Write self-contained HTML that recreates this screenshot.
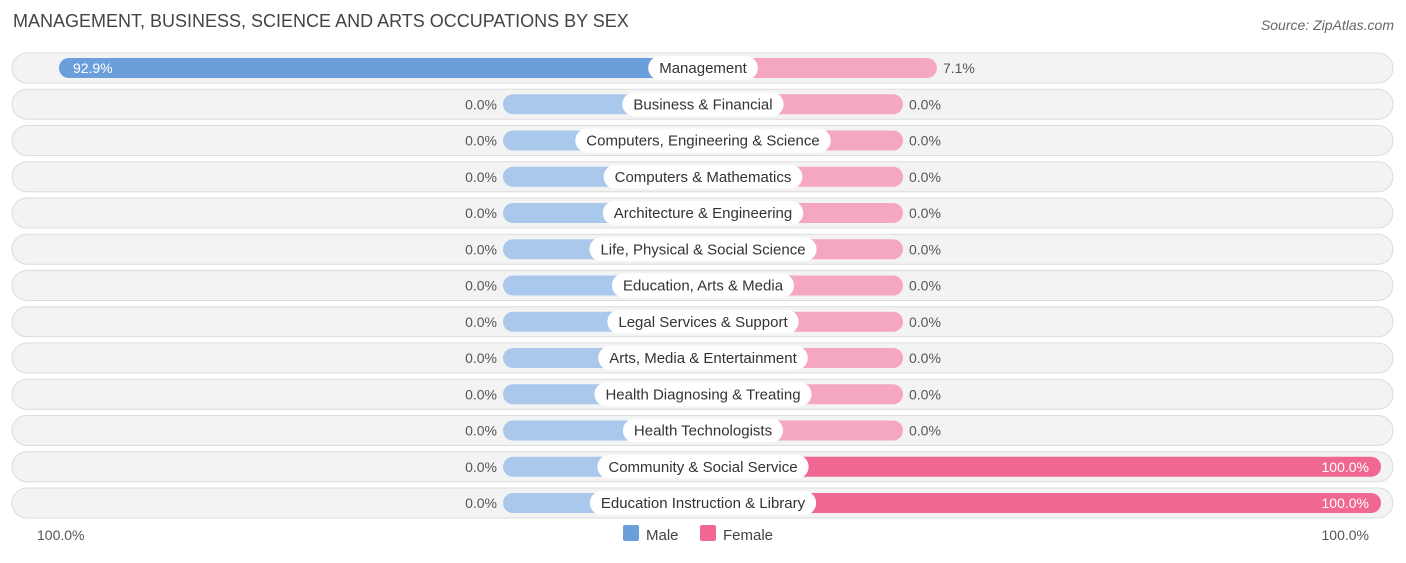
<!DOCTYPE html>
<html><head><meta charset="utf-8"><style>
body{margin:0;width:1406px;height:558px;background:#fff;font-family:"Liberation Sans",sans-serif;overflow:hidden}
</style></head><body>
<svg width="1406" height="558" id="c">
<text x="13" y="27" font-size="18" fill="#444">MANAGEMENT, BUSINESS, SCIENCE AND ARTS OCCUPATIONS BY SEX</text>
<text x="1394" y="30" font-size="14" fill="#666" font-style="italic" text-anchor="end">Source: ZipAtlas.com</text>
<text x="37" y="540" font-size="14" fill="#555">100.0%</text>
<text x="1369" y="540" font-size="14" fill="#555" text-anchor="end">100.0%</text>
<rect x="623" y="525" width="16" height="16" rx="2" fill="#6a9fdc"/>
<text x="646" y="540" font-size="15" fill="#444">Male</text>
<rect x="700" y="525" width="16" height="16" rx="2" fill="#f06892"/>
<text x="723" y="540" font-size="15" fill="#444">Female</text>
<g id="rows"></g>
</svg>
<script>
const categories=["Management","Business & Financial","Computers, Engineering & Science","Computers & Mathematics","Architecture & Engineering","Life, Physical & Social Science","Education, Arts & Media","Legal Services & Support","Arts, Media & Entertainment","Health Diagnosing & Treating","Health Technologists","Community & Social Service","Education Instruction & Library"];
const maleValues=[92.9,0,0,0,0,0,0,0,0,0,0,0,0];
const femaleValues=[7.1,0,0,0,0,0,0,0,0,0,0,100,100];
const NS="http://www.w3.org/2000/svg";
const g=document.getElementById('rows');
const cx=703, stub=200, k=4.78;
function ext(v){return stub+v*k;}
function mk(t,a,p){const e=document.createElementNS(NS,t);for(const q in a)e.setAttribute(q,a[q]);p.appendChild(e);return e;}
categories.forEach((cat,i)=>{
  const y=68+i*36.25;
  const row=mk('g',{},g);
  
  
  mk('rect',{x:12,y:y-15,width:1381,height:30,rx:15,fill:'#f3f3f3',stroke:'#dcdcdc'},row);
  const m=maleValues[i],f=femaleValues[i];
  const mc=m>50?'#6a9fdc':'#a9c8ec', fc=f>50?'#f06892':'#f5a7c0';
  const ml=ext(m), fl=ext(f);
  const mb=mk('rect',{x:cx-ml,y:y-10,width:ml,height:20,rx:10,fill:mc},row);
  
  
  const fb=mk('rect',{x:cx,y:y-10,width:fl,height:20,rx:10,fill:fc},row);
  
  
  const bg=mk('rect',{x:cx-50,y:y-12,width:100,height:24,rx:12,fill:'#fff'},row);
  const lt=mk('text',{x:cx,y:y+5,'font-size':15,fill:'#333','text-anchor':'middle'},row);
  lt.textContent=cat;
  
  
  const lw=lt.getComputedTextLength()+22;
  bg.setAttribute('x',cx-lw/2);bg.setAttribute('width',lw);
  let mt;
  if(m>50){mt=mk('text',{x:cx-ml+14,y:y+5,'font-size':14,fill:'#fff'},row);}
  else{mt=mk('text',{x:cx-ml-6,y:y+5,'font-size':14,fill:'#555','text-anchor':'end'},row);}
  mt.textContent=m.toFixed(1)+'%';
  
  
  let ft;
  if(f>50){ft=mk('text',{x:cx+fl-12,y:y+5,'font-size':14,fill:'#fff','text-anchor':'end'},row);}
  else{ft=mk('text',{x:cx+fl+6,y:y+5,'font-size':14,fill:'#555'},row);}
  ft.textContent=f.toFixed(1)+'%';
  
  
});
</script>
</body></html>
